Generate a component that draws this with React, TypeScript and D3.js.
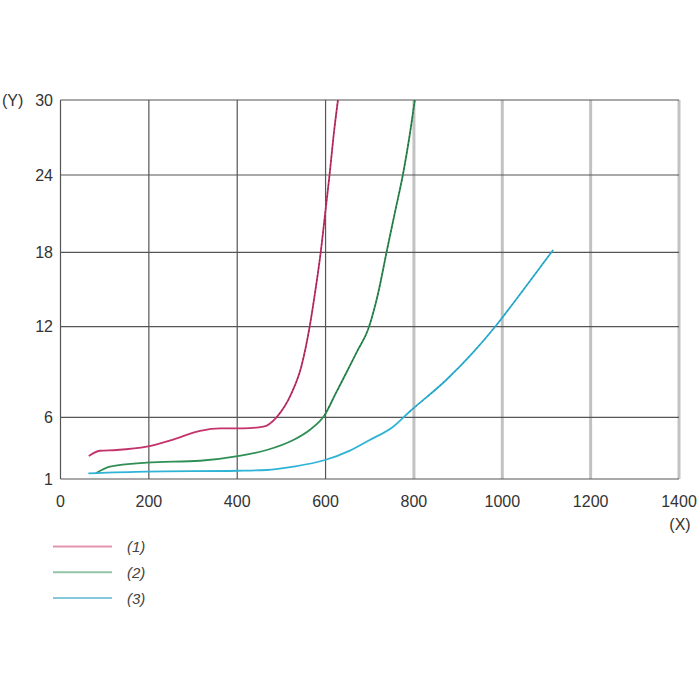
import React from 'react';
import * as d3 from 'd3';

// x ticks and y ticks (the y axis is not evenly spaced in the original)
const xTicks = [0, 200, 400, 600, 800, 1000, 1200, 1400];
const yTicks = [1, 6, 12, 18, 24, 30];

// series: [x, y]
const series1: [number, number][] = [
  [64, 2.86], [89, 3.29], [127, 3.35], [195, 3.62], [255, 4.2], [316, 4.9], [361, 5.1],
  [414, 5.1], [459, 5.24], [489, 6.0], [523, 7.6], [545, 9.35], [564, 12], [576, 14.7],
  [589, 18], [600, 21.3], [609, 24], [618, 27.1], [628, 30],
];
const series2: [number, number][] = [
  [80, 1.46], [112, 2.0], [195, 2.32], [316, 2.48], [401, 2.86], [467, 3.35], [527, 4.16],
  [564, 4.97], [598, 6.15], [623, 7.58], [647, 8.95], [672, 10.4], [696, 11.8], [719, 14.7],
  [738, 18], [757, 21.1], [776, 24.2], [790, 27.1], [802, 30],
];
const series3: [number, number][] = [
  [63, 1.46], [195, 1.6], [401, 1.67], [467, 1.73], [527, 2.0], [599, 2.54], [655, 3.3],
  [700, 4.16], [753, 5.24], [790, 6.37], [873, 8.47], [934, 10.3], [987, 12.14],
  [1039, 14.56], [1115, 18.18],
];
const seriesLabels = ['(1)', '(2)', '(3)'];

const lineColors = ['#c4336b', '#2f8f55', '#2fb3d6'];
const dashColors = ['#7a1f44', '#1d5a36', '#1f7f9a'];
const legendColors = ['#e394b0', '#93c4a6', '#86c9da'];
const dashFrom = [489, 598, 790];

const font = '"Liberation Sans", Arial, sans-serif';

export default function App() {
  const x = d3.scaleLinear().domain([0, 1400]).range([60.5, 679]);
  const y = d3.scaleLinear().domain(yTicks).range([479, 417.3, 326.7, 252.3, 175, 100]);

  const line = d3.line<[number, number]>()
    .x(d => x(d[0]))
    .y(d => y(d[1]))
    .curve(d3.curveMonotoneX);

  const all = [series1, series2, series3];

  return (
    <svg width={700} height={700}
      style={{ position: 'absolute', left: 0, top: 0, display: 'block', background: '#fff' }}>
      {/* vertical grid */}
      {xTicks.slice(1).map(t => (
        <line key={'v' + t} x1={x(t)} x2={x(t)} y1={y(30)} y2={y(1)}
          stroke={t <= 600 ? '#555' : '#c2c2c2'} strokeWidth={t <= 600 ? 1.2 : 3} />
      ))}
      {/* horizontal grid */}
      {yTicks.map(t => (
        <line key={'h' + t} x1={x(0)} x2={x(1400)} y1={y(t)} y2={y(t)} stroke="#555" strokeWidth={1.2} />
      ))}
      <line x1={x(0)} x2={x(0)} y1={y(30)} y2={y(1)} stroke="#555" strokeWidth={1.2} />

      {/* curves */}
      {all.map((s, i) => (
        <g key={'s' + i}>
          <path d={line(s) || ''} fill="none" stroke={lineColors[i]} strokeWidth={1.8} />
          <path d={line(s.filter(p => p[0] >= dashFrom[i])) || ''} fill="none"
            stroke={dashColors[i]} strokeWidth={1} strokeDasharray="2,2" opacity={0.8} />
        </g>
      ))}

      {/* axis labels */}
      <g fontFamily={font} fontSize={16} fill="#333">
        {yTicks.map(t => (
          <text key={'yl' + t} x={53} y={y(t)} dy="0.36em" textAnchor="end">{t}</text>
        ))}
        <text x={2} y={y(30)} dy="0.36em">(Y)</text>
        {xTicks.map(t => (
          <text key={'xl' + t} x={x(t)} y={507} textAnchor="middle">{t}</text>
        ))}
        <text x={680} y={530} textAnchor="middle">(X)</text>
      </g>

      {/* legend */}
      {seriesLabels.map((lab, i) => (
        <g key={'lg' + i} transform={`translate(0,${546.5 + i * 25.8})`}>
          <line x1={53} x2={112} y1={0} y2={0} stroke={legendColors[i]} strokeWidth={2} />
          <text x={127} y={0} dy="0.36em" fontFamily={font} fontSize={15} fontStyle="italic" fill="#444">{lab}</text>
        </g>
      ))}
    </svg>
  );
}
